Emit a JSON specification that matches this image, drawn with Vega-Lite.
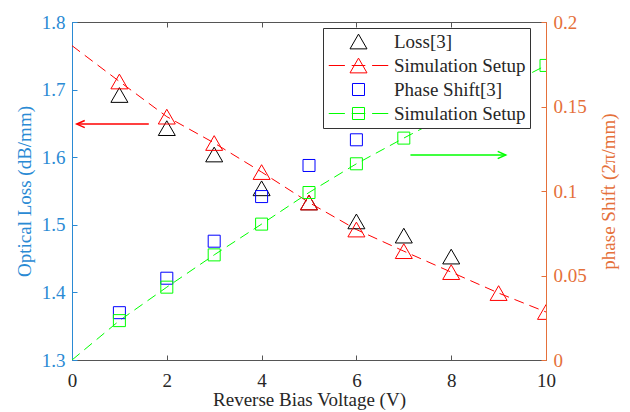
{
  "$schema": "https://vega.github.io/schema/vega-lite/v6.json",
  "width": 474,
  "height": 338,
  "autosize": {"type": "none"},
  "padding": {"left": 72, "top": 22, "right": 84, "bottom": 52},
  "background": "white",
  "config": {
    "view": {"stroke": null},
    "font": "Liberation Serif",
    "axis": {"grid": false, "labelFont": "Liberation Serif", "titleFont": "Liberation Serif", "labelFontSize": 19, "titleFontSize": 19, "titleFontWeight": "normal", "tickSize": -5, "domainWidth": 1, "tickWidth": 1, "labelFlush": false}
  },
  "datasets": {
    "loss": [
      {"x": 1, "y": 1.692, "s": "a"}, {"x": 2, "y": 1.643, "s": "a"}, {"x": 3, "y": 1.604, "s": "a"}, {"x": 4, "y": 1.554, "s": "a"},
      {"x": 5, "y": 1.533, "s": "a"}, {"x": 6, "y": 1.505, "s": "a"}, {"x": 7, "y": 1.484, "s": "a"}, {"x": 8, "y": 1.453, "s": "a"}
    ],
    "simloss": [
      {"x": 0, "y": 1.765, "s": "b"}, {"x": 1, "y": 1.712, "s": "b"}, {"x": 2, "y": 1.66, "s": "b"}, {"x": 3, "y": 1.621, "s": "b"},
      {"x": 4, "y": 1.578, "s": "b"}, {"x": 5, "y": 1.533, "s": "b"}, {"x": 6, "y": 1.493, "s": "b"}, {"x": 7, "y": 1.461, "s": "b"},
      {"x": 8, "y": 1.43, "s": "b"}, {"x": 9, "y": 1.399, "s": "b"}, {"x": 10, "y": 1.371, "s": "b"}
    ],
    "phase": [
      {"x": 1, "y": 0.028, "s": "c"}, {"x": 2, "y": 0.0484, "s": "c"}, {"x": 3, "y": 0.0703, "s": "c"},
      {"x": 4, "y": 0.0967, "s": "c"}, {"x": 5, "y": 0.1151, "s": "c"}, {"x": 6, "y": 0.1303, "s": "c"}
    ],
    "simphase": [
      {"x": 0, "y": 0, "s": "d"}, {"x": 1, "y": 0.0233, "s": "d"}, {"x": 2, "y": 0.0431, "s": "d"}, {"x": 3, "y": 0.0622, "s": "d"},
      {"x": 4, "y": 0.0804, "s": "d"}, {"x": 5, "y": 0.0991, "s": "d"}, {"x": 6, "y": 0.1161, "s": "d"}, {"x": 7, "y": 0.1313, "s": "d"},
      {"x": 8, "y": 0.146, "s": "d"}, {"x": 9, "y": 0.16, "s": "d"}, {"x": 10, "y": 0.1743, "s": "d"}
    ],
    "arrowL": [{"x": 0.1, "x2": 1.62, "y": 1.649}],
    "arrowR": [{"x": 9.15, "x2": 7.14, "y": 0.1213}]
  },
  "resolve": {"scale": {"y": "independent"}, "axis": {"x": "independent"}},
  "layer": [
    {
      "encoding": {
        "x": {"field": "x", "type": "quantitative", "scale": {"domain": [0, 10], "nice": false},
          "axis": {"values": [0, 2, 4, 6, 8, 10], "format": "d", "title": "Reverse Bias Voltage (V)", "domainColor": "#555555", "tickColor": "#555555", "labelColor": "#262626", "titleColor": "#262626", "labelPadding": 16, "titlePadding": 0}},
        "y": {"field": "y", "type": "quantitative", "scale": {"domain": [1.3, 1.8], "nice": false, "zero": false},
          "axis": {"values": [1.3, 1.4, 1.5, 1.6, 1.7, 1.8], "format": ".1f", "title": "Optical Loss (dB/mm)", "domainColor": "#2a8ad4", "tickColor": "#2a8ad4", "labelColor": "#2a8ad4", "titleColor": "#2a8ad4", "labelPadding": 12, "titlePadding": 7}}
      },
      "layer": [
        {"data": {"name": "simloss"}, "mark": {"type": "line", "color": "#ff0000", "strokeWidth": 1, "strokeDash": [10, 6], "clip": true}},
        {"data": {"name": "loss"}, "transform": [{"filter": "datum.x > 100"}],
          "mark": {"type": "point", "size": 289, "filled": false, "strokeWidth": 1, "opacity": 1, "clip": true},
          "encoding": {
            "color": {"field": "s", "type": "nominal",
              "scale": {"domain": ["a", "b", "c", "d"], "range": ["#000000", "#ff0000", "#0000ff", "#00ff00"]},
              "legend": {"title": null, "orient": "none", "legendX": 251, "legendY": 6, "symbolSize": 289, "symbolStrokeWidth": 1,
                "labelFont": "Liberation Serif", "labelFontSize": 19, "labelColor": "#262626", "labelLimit": 300,
                "labelExpr": "datum.value === 'a' ? 'Loss[3]' : datum.value === 'c' ? 'Phase Shift[3]' : 'Simulation Setup'",
                "fillColor": "white", "strokeColor": "#333333", "padding": 4, "rowPadding": 4, "symbolOffset": 22, "labelOffset": 26}},
            "shape": {"field": "s", "type": "nominal",
              "scale": {"domain": ["a", "b", "c", "d"], "range": ["M0,-0.866L-1,0.866L1,0.866Z", "M-3.5,0H-1.6M-0.8,0H0.8M1.6,0H3.5M0,-0.866L-1,0.866L1,0.866Z", "M-0.706,-0.706H0.706V0.706H-0.706Z", "M-3.5,0H-1.6M-0.8,0H0.8M1.6,0H3.5M-0.706,-0.706H0.706V0.706H-0.706Z"]},
              "legend": {"title": null, "orient": "none", "legendX": 251, "legendY": 6, "symbolSize": 289, "symbolStrokeWidth": 1,
                "labelFont": "Liberation Serif", "labelFontSize": 19, "labelColor": "#262626", "labelLimit": 300,
                "labelExpr": "datum.value === 'a' ? 'Loss[3]' : datum.value === 'c' ? 'Phase Shift[3]' : 'Simulation Setup'",
                "fillColor": "white", "strokeColor": "#333333", "padding": 4, "rowPadding": 4, "symbolOffset": 22, "labelOffset": 26}}
          }},
        {"data": {"name": "loss"}, "mark": {"type": "point", "shape": "triangle-up", "size": 289, "filled": false, "strokeWidth": 1, "opacity": 1, "clip": true},
          "encoding": {"color": {"field": "s", "type": "nominal"}}},
        {"data": {"name": "simloss"}, "transform": [{"filter": "datum.x > 0"}], "mark": {"type": "point", "shape": "triangle-up", "size": 289, "filled": false, "strokeWidth": 1, "opacity": 1, "clip": true},
          "encoding": {"color": {"field": "s", "type": "nominal"}}},
        {"data": {"name": "arrowL"}, "mark": {"type": "rule", "color": "#ff0000", "strokeWidth": 1.5}, "encoding": {"x2": {"field": "x2"}}},
        {"data": {"name": "arrowL"}, "mark": {"type": "point", "shape": "M2,-0.9L0,0L2,0.9", "size": 64, "filled": false, "color": "#ff0000", "strokeWidth": 1.5, "opacity": 1}}
      ]
    },
    {
      "encoding": {
        "x": {"field": "x", "type": "quantitative", "scale": {"domain": [0, 10], "nice": false},
          "axis": {"orient": "top", "values": [0, 2, 4, 6, 8, 10], "labels": false, "title": null, "domainColor": "#555555", "tickColor": "#555555"}},
        "y": {"field": "y", "type": "quantitative", "scale": {"domain": [0, 0.2], "nice": false},
          "axis": {"orient": "right", "values": [0, 0.05, 0.1, 0.15, 0.2], "format": "~g", "title": "phase Shift (2π/mm)", "titleAngle": 270, "domainColor": "#e5703a", "tickColor": "#e5703a", "labelColor": "#e5703a", "titleColor": "#e5703a", "labelPadding": 12, "titlePadding": 32}}
      },
      "layer": [
        {"data": {"name": "simphase"}, "mark": {"type": "line", "color": "#00ff00", "strokeWidth": 1, "strokeDash": [10, 6], "clip": true}},
        {"data": {"name": "phase"}, "mark": {"type": "point", "shape": "square", "size": 144, "filled": false, "strokeWidth": 1, "opacity": 1, "clip": true},
          "encoding": {"color": {"field": "s", "type": "nominal"}}},
        {"data": {"name": "simphase"}, "transform": [{"filter": "datum.x > 0"}], "mark": {"type": "point", "shape": "square", "size": 144, "filled": false, "strokeWidth": 1, "opacity": 1, "clip": true},
          "encoding": {"color": {"field": "s", "type": "nominal"}}},
        {"data": {"name": "arrowR"}, "mark": {"type": "rule", "color": "#00ff00", "strokeWidth": 1.5}, "encoding": {"x2": {"field": "x2"}}},
        {"data": {"name": "arrowR"}, "mark": {"type": "point", "shape": "M-2,-0.9L0,0L-2,0.9", "size": 64, "filled": false, "color": "#00ff00", "strokeWidth": 1.5, "opacity": 1}}
      ]
    }
  ]
}
